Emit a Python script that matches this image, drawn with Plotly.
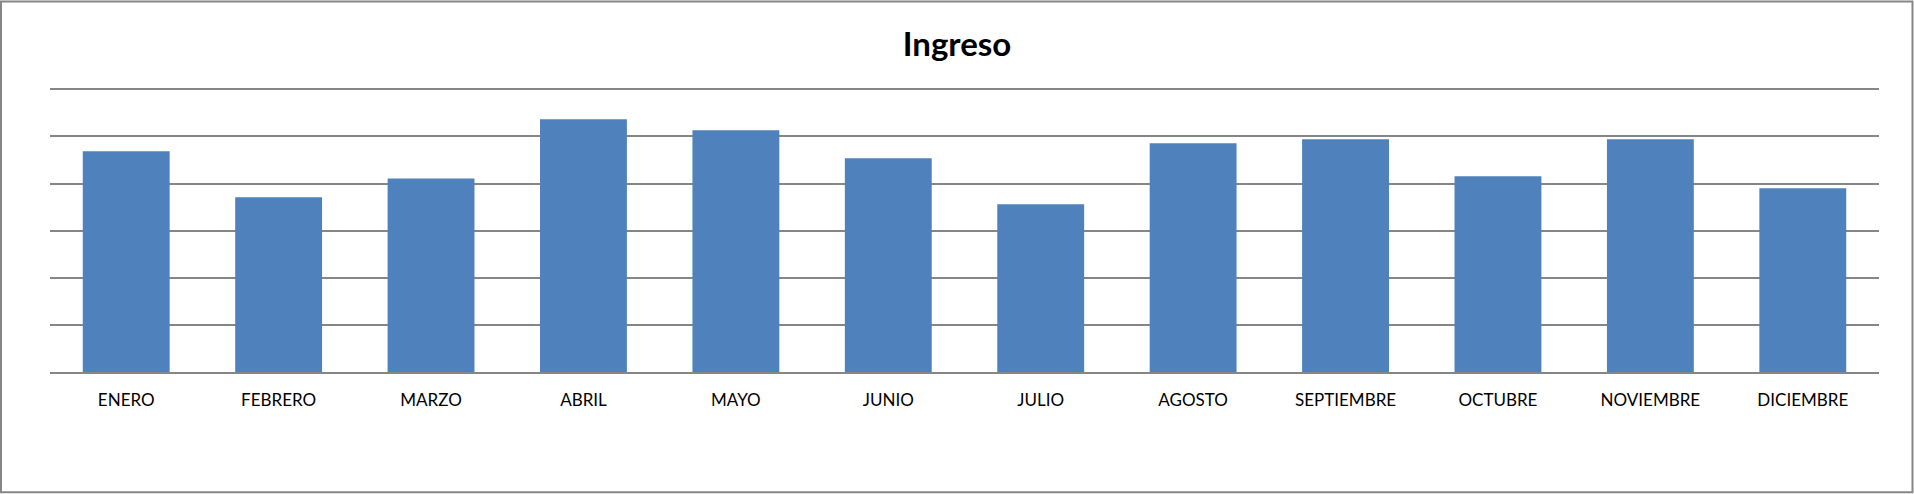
import plotly.graph_objects as go

months = ["ENERO", "FEBRERO", "MARZO", "ABRIL", "MAYO", "JUNIO", "JULIO",
          "AGOSTO", "SEPTIEMBRE", "OCTUBRE", "NOVIEMBRE", "DICIEMBRE"]
ingreso = [4685, 3710, 4110, 5365, 5130, 4535, 3560, 4855, 4940, 4155, 4940, 3900]

W, H = 1914, 494
L, R, T, B = 50, 35, 86.6, 122
pw, ph = W - L - R, H - T - B

fig = go.Figure(go.Bar(x=months, y=ingreso, marker=dict(color="#4F81BD", line=dict(width=0))))

def px_x(v):
    return (v - L) / pw

def px_y(v):
    return 1 - (v - T) / ph

fig.update_layout(
    width=W, height=H,
    margin=dict(l=L, r=R, t=T, b=B, pad=0),
    paper_bgcolor="white", plot_bgcolor="white",
    bargap=0.43,
    showlegend=False,
    title=dict(text="<b>Ingreso</b>", x=0.5, xanchor="center", y=1 - 44 / H, yanchor="middle",
               font=dict(family="Lato", size=33, color="black")),
    font=dict(family="Lato", size=17, color="black"),
    xaxis=dict(showgrid=False, showline=True, linecolor="#868686", linewidth=1.5,
               ticks="", tickfont=dict(size=17), ticklabelstandoff=12),
    yaxis=dict(range=[0, 6050], tickvals=[1000, 2000, 3000, 4000, 5000, 6000],
               showgrid=True, gridcolor="#868686", gridwidth=1.5,
               showticklabels=False, zeroline=False, ticks=""),
    shapes=[dict(type="rect", xref="paper", yref="paper",
                 x0=px_x(1), x1=px_x(1912.5), y0=px_y(492.5), y1=px_y(1),
                 line=dict(color="#868686", width=2), fillcolor="rgba(0,0,0,0)", layer="above")],
)

fig.write_html("out.html", config={"displayModeBar": False},
               post_script="document.body.style.margin='0';document.body.style.overflow='hidden';")
